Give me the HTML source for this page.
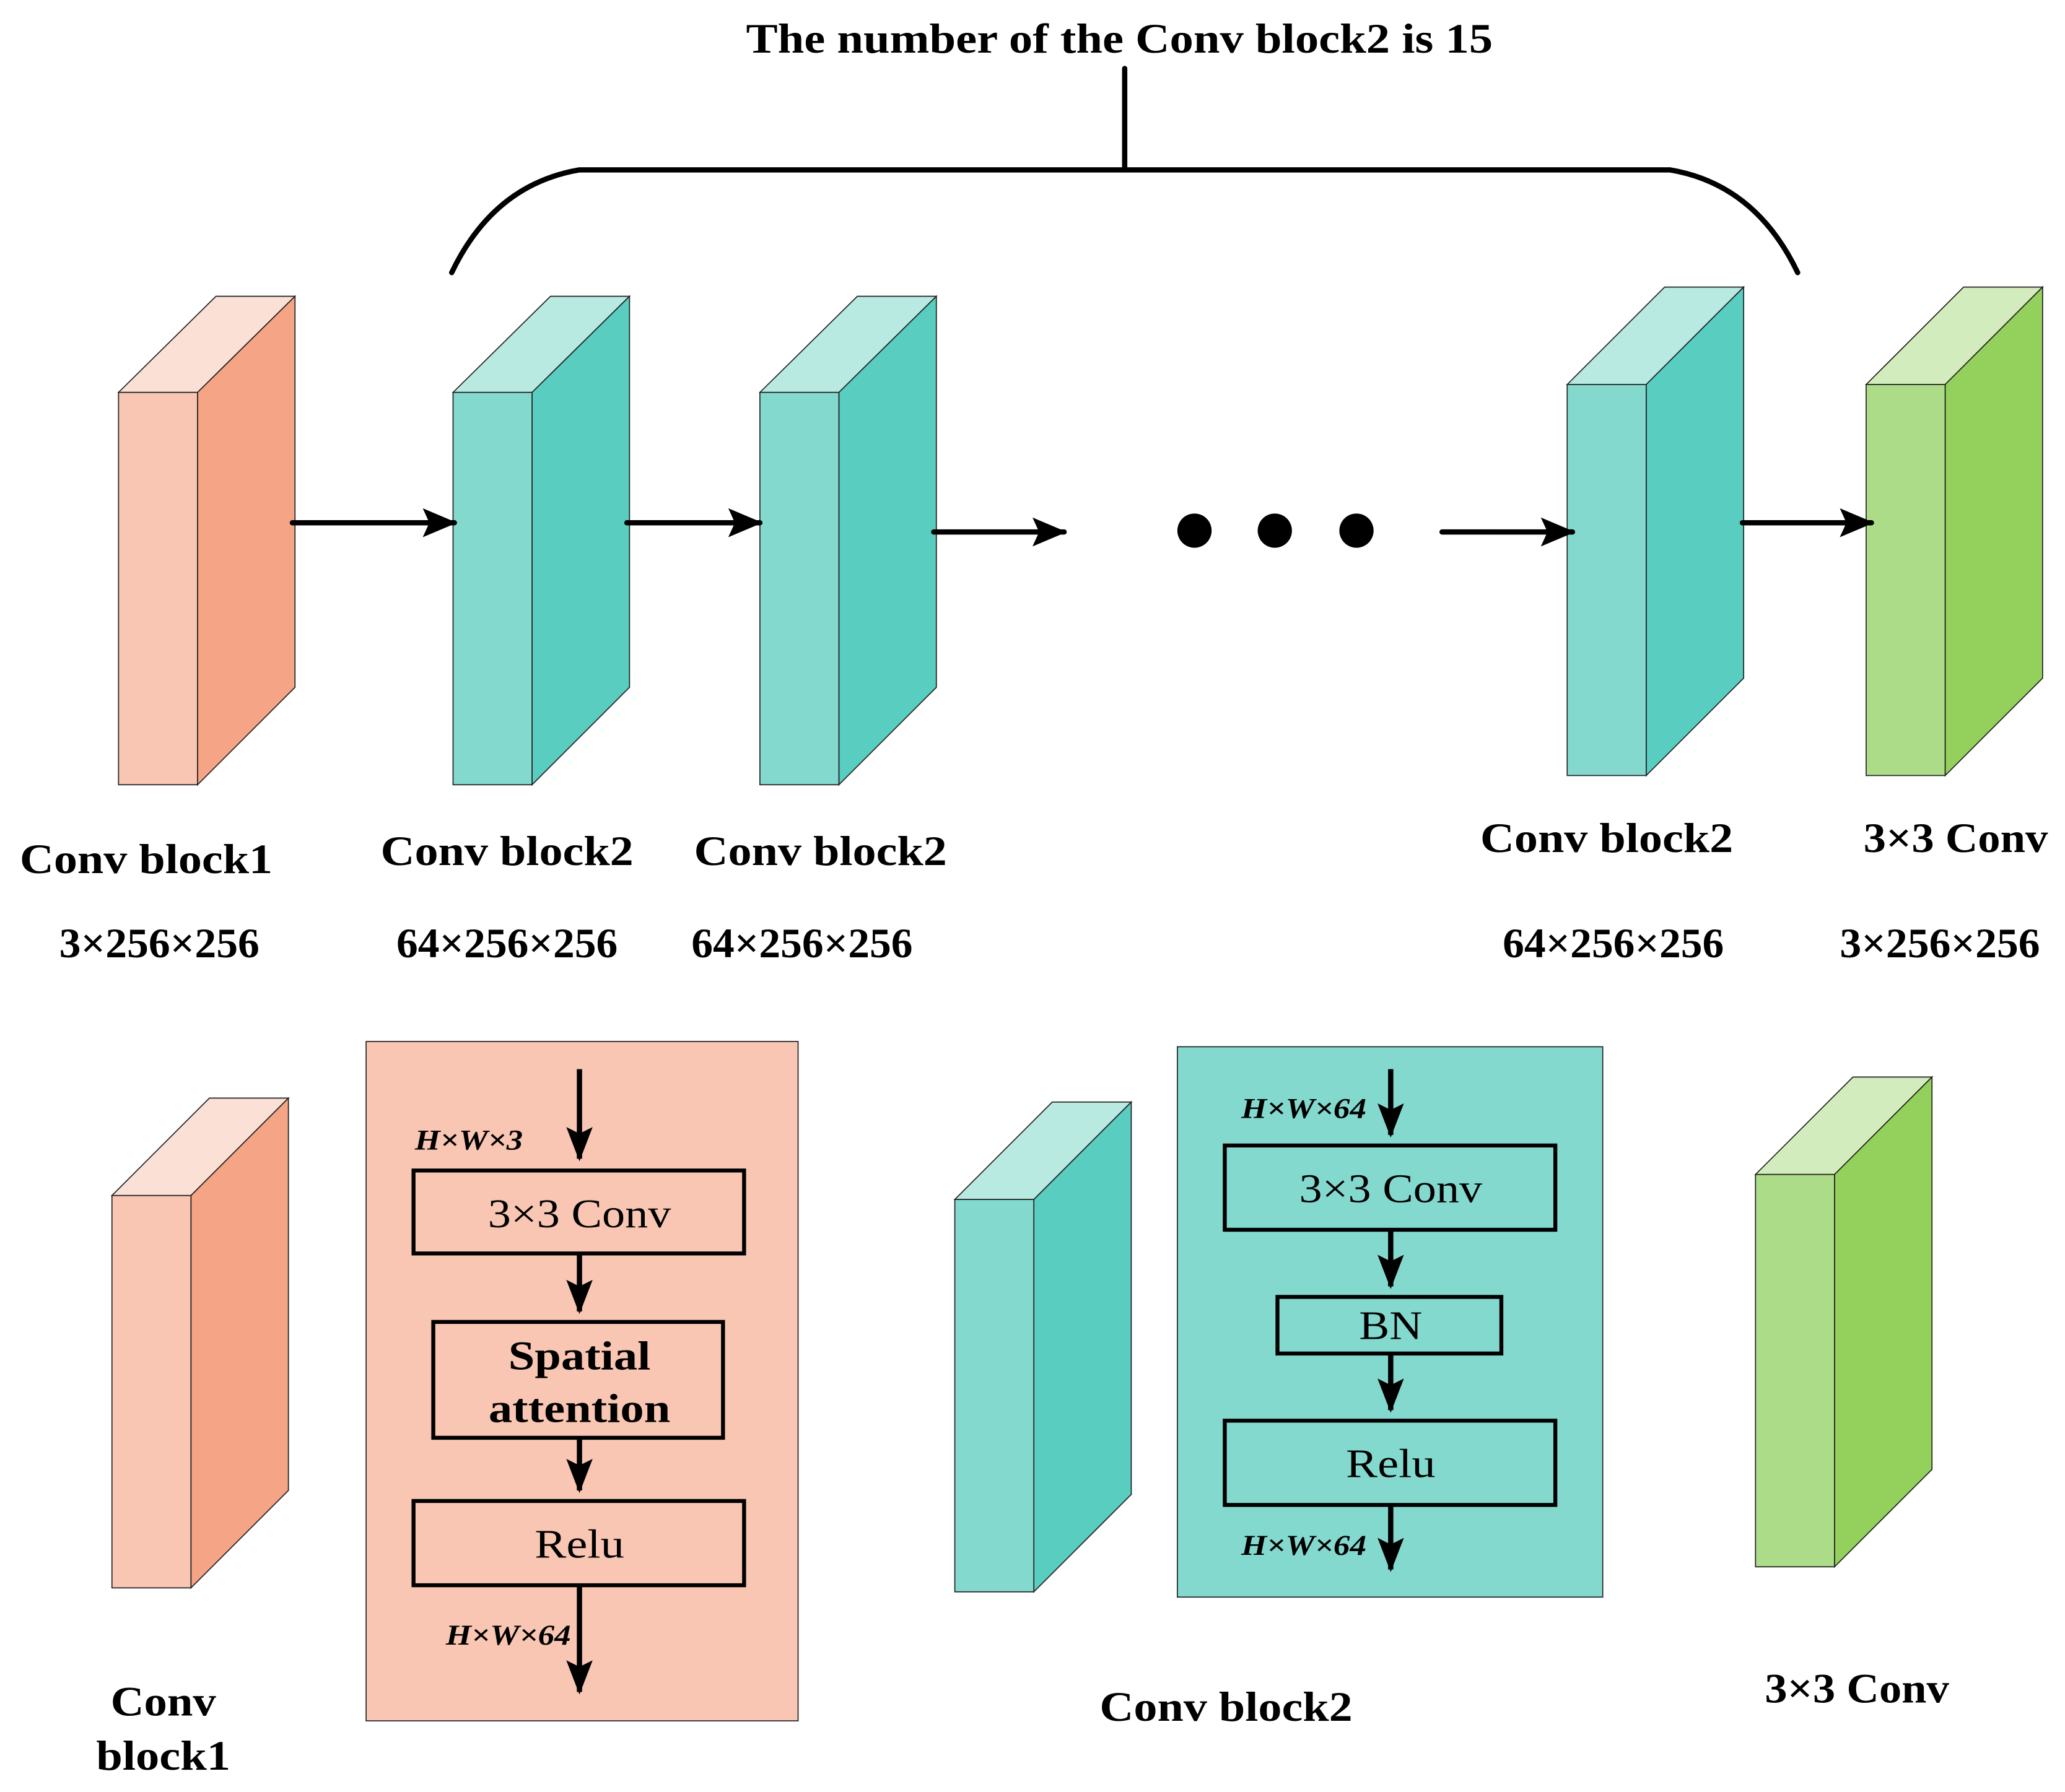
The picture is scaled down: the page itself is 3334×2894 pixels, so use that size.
<!DOCTYPE html>
<html><head><meta charset="utf-8"><style>html,body{margin:0;padding:0;background:#fff}svg{display:block}</style></head><body>
<svg width="3334" height="2894" viewBox="0 0 1568 1361" xmlns="http://www.w3.org/2000/svg" font-family="'Liberation Serif',serif">
<defs>
<marker id="ah" markerWidth="20" markerHeight="26" refX="10" refY="24" orient="0" markerUnits="userSpaceOnUse"><path d="M0,0 L10,26 L20,0 L10,5 Z" fill="#000"/></marker>
<marker id="ahb" markerWidth="26" markerHeight="22" refX="24" refY="11" orient="auto" markerUnits="userSpaceOnUse"><path d="M0,0 L26,11 L0,22 L5,11 Z" fill="#000"/></marker>
</defs>
<g stroke="#222" stroke-width="0.8">
<g><polygon points="90,298 164,225 224,225 150,298" fill="#fbe0d6"/><polygon points="150,298 224,225 224,522 150,596" fill="#f5a486"/><rect x="90" y="298" width="60" height="298" fill="#f8c6b2"/></g>
<g><polygon points="344,298 418,225 478,225 404,298" fill="#b9eae2"/><polygon points="404,298 478,225 478,522 404,596" fill="#58cdc0"/><rect x="344" y="298" width="60" height="298" fill="#84d9cf"/></g>
<g><polygon points="577,298 651,225 711,225 637,298" fill="#b9eae2"/><polygon points="637,298 711,225 711,522 637,596" fill="#58cdc0"/><rect x="577" y="298" width="60" height="298" fill="#84d9cf"/></g>
<g><polygon points="1190,292 1264,218 1324,218 1250,292" fill="#b9eae2"/><polygon points="1250,292 1324,218 1324,515 1250,589" fill="#58cdc0"/><rect x="1190" y="292" width="60" height="297" fill="#84d9cf"/></g>
<g><polygon points="1417,292 1491,218 1551,218 1477,292" fill="#d3ecbd"/><polygon points="1477,292 1551,218 1551,515 1477,589" fill="#94d05c"/><rect x="1417" y="292" width="60" height="297" fill="#addc88"/></g>
<g><polygon points="85,908 159,834 219,834 145,908" fill="#fbe0d6"/><polygon points="145,908 219,834 219,1132 145,1206" fill="#f5a486"/><rect x="85" y="908" width="60" height="298" fill="#f8c6b2"/></g>
<g><polygon points="725,911 799,837 859,837 785,911" fill="#b9eae2"/><polygon points="785,911 859,837 859,1135 785,1209" fill="#58cdc0"/><rect x="725" y="911" width="60" height="298" fill="#84d9cf"/></g>
<g><polygon points="1333,892 1407,818 1467,818 1393,892" fill="#d3ecbd"/><polygon points="1393,892 1467,818 1467,1116 1393,1190" fill="#94d05c"/><rect x="1333" y="892" width="60" height="298" fill="#addc88"/></g>
<rect x="278" y="791" width="328" height="516" fill="#f8c6b2"/>
<rect x="894" y="795" width="323" height="418" fill="#84d9cf"/>
</g>
<g stroke="#000" stroke-width="4" fill="none" stroke-linecap="round">
<line x1="222" y1="397" x2="345" y2="397" marker-end="url(#ahb)"/>
<line x1="476" y1="397" x2="577" y2="397" marker-end="url(#ahb)"/>
<line x1="709" y1="404" x2="808" y2="404" marker-end="url(#ahb)"/>
<line x1="1095" y1="404" x2="1194" y2="404" marker-end="url(#ahb)"/>
<line x1="1323" y1="397" x2="1421" y2="397" marker-end="url(#ahb)"/>
<path d="M343,207 Q375,140 440,129 L1268,129 Q1333,140 1365,207"/>
<line x1="854" y1="52" x2="854" y2="129"/>
</g>
<g fill="#000"><circle cx="907" cy="403" r="13"/><circle cx="968" cy="403" r="13"/><circle cx="1030" cy="403" r="13"/></g>
<g stroke="#000" stroke-width="4" fill="none">
<line x1="440" y1="812" x2="440" y2="880" marker-end="url(#ah)"/>
<line x1="440" y1="952" x2="440" y2="996" marker-end="url(#ah)"/>
<line x1="440" y1="1092" x2="440" y2="1132" marker-end="url(#ah)"/>
<line x1="440" y1="1204" x2="440" y2="1285" marker-end="url(#ah)"/>
<line x1="1056" y1="812" x2="1056" y2="862" marker-end="url(#ah)"/>
<line x1="1056" y1="934" x2="1056" y2="977" marker-end="url(#ah)"/>
<line x1="1056" y1="1028" x2="1056" y2="1071" marker-end="url(#ah)"/>
<line x1="1056" y1="1143" x2="1056" y2="1192" marker-end="url(#ah)"/>
</g>
<g stroke="#000" stroke-width="3">
<rect x="314" y="889" width="251" height="63" fill="#f8c6b2"/>
<rect x="329" y="1004" width="220" height="88" fill="#f8c6b2"/>
<rect x="314" y="1140" width="251" height="64" fill="#f8c6b2"/>
<rect x="930" y="870" width="251" height="64" fill="#84d9cf"/>
<rect x="970" y="985" width="170" height="43" fill="#84d9cf"/>
<rect x="930" y="1079" width="251" height="64" fill="#84d9cf"/>
</g>
<g text-anchor="middle" fill="#000">
<text x="850" y="40" font-size="32" font-weight="bold" textLength="567" lengthAdjust="spacingAndGlyphs">The number of the Conv block2 is 15</text>
<g font-size="32" font-weight="bold" lengthAdjust="spacingAndGlyphs">
<text x="111" y="663" textLength="192" lengthAdjust="spacingAndGlyphs">Conv block1</text>
<text x="385" y="657" textLength="192" lengthAdjust="spacingAndGlyphs">Conv block2</text>
<text x="623" y="657" textLength="192" lengthAdjust="spacingAndGlyphs">Conv block2</text>
<text x="1220" y="647" textLength="192" lengthAdjust="spacingAndGlyphs">Conv block2</text>
<text x="1485" y="647" textLength="140" lengthAdjust="spacingAndGlyphs">3×3 Conv</text>
<text x="121" y="727" textLength="152" lengthAdjust="spacingAndGlyphs">3×256×256</text>
<text x="385" y="727" textLength="168" lengthAdjust="spacingAndGlyphs">64×256×256</text>
<text x="609" y="727" textLength="168" lengthAdjust="spacingAndGlyphs">64×256×256</text>
<text x="1225" y="727" textLength="168" lengthAdjust="spacingAndGlyphs">64×256×256</text>
<text x="1473" y="727" textLength="152" lengthAdjust="spacingAndGlyphs">3×256×256</text>
<text x="124" y="1303" textLength="80" lengthAdjust="spacingAndGlyphs">Conv</text>
<text x="124" y="1344" textLength="102" lengthAdjust="spacingAndGlyphs">block1</text>
<text x="931" y="1307" textLength="192" lengthAdjust="spacingAndGlyphs">Conv block2</text>
<text x="1410" y="1293" textLength="140" lengthAdjust="spacingAndGlyphs">3×3 Conv</text>
</g>
<g font-size="31">
<text x="440" y="932" textLength="139" lengthAdjust="spacingAndGlyphs">3×3 Conv</text>
<text x="440" y="1183" textLength="68" lengthAdjust="spacingAndGlyphs">Relu</text>
<text x="1056" y="913" textLength="139" lengthAdjust="spacingAndGlyphs">3×3 Conv</text>
<text x="1056" y="1017" textLength="48" lengthAdjust="spacingAndGlyphs">BN</text>
<text x="1056" y="1122" textLength="68" lengthAdjust="spacingAndGlyphs">Relu</text>
</g>
<g font-size="31" font-weight="bold"><text x="440" y="1040" textLength="108" lengthAdjust="spacingAndGlyphs">Spatial</text><text x="440" y="1080" textLength="138" lengthAdjust="spacingAndGlyphs">attention</text></g>
<g font-size="22" font-weight="bold" font-style="italic">
<text x="356" y="873" textLength="82" lengthAdjust="spacingAndGlyphs">H×W×3</text>
<text x="386" y="1249" textLength="95" lengthAdjust="spacingAndGlyphs">H×W×64</text>
<text x="990" y="849" textLength="95" lengthAdjust="spacingAndGlyphs">H×W×64</text>
<text x="990" y="1181" textLength="95" lengthAdjust="spacingAndGlyphs">H×W×64</text>
</g>
</g>
</svg>
</body></html>
